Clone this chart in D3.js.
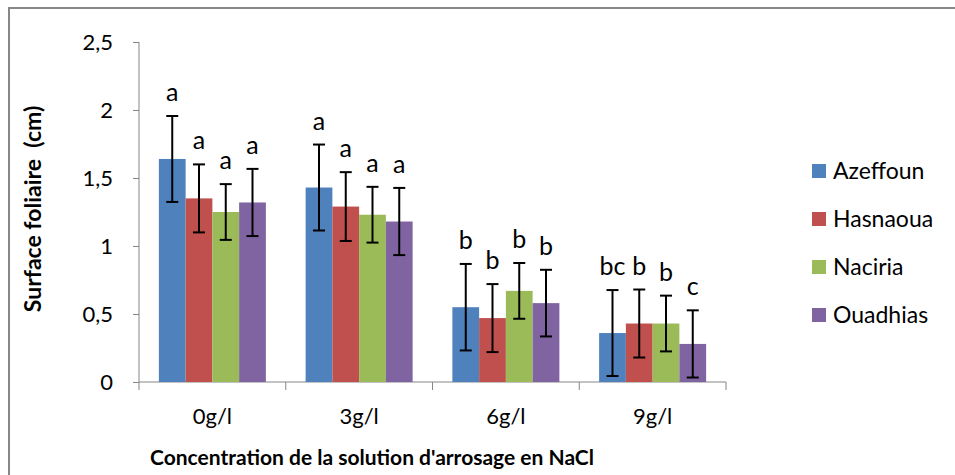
<!DOCTYPE html>
<html>
<head>
<meta charset="utf-8">
<script src="https://cdn.jsdelivr.net/npm/d3@7"></script>
<style>
  body { margin: 0; background: #fff; }
  svg text { font-family: Lato, "Open Sans", sans-serif; fill: #000; }
</style>
</head>
<body>
<div class="chart"></div>
<script>

// data
var categories = ["0g/l", "3g/l", "6g/l", "9g/l"];
var seriesNames = ["Azeffoun", "Hasnaoua", "Naciria", "Ouadhias"];
var seriesColors = ["#4F81BD", "#C0504D", "#9BBB59", "#8064A2"];

var azeffoun = [1.64, 1.43, 0.55, 0.36];
var hasnaoua = [1.35, 1.29, 0.47, 0.43];
var naciria  = [1.25, 1.23, 0.67, 0.43];
var ouadhias = [1.32, 1.18, 0.58, 0.28];

var errAzeffoun = [0.316, 0.316, 0.318, 0.316];
var errHasnaoua = [0.25, 0.253, 0.25, 0.25];
var errNaciria  = [0.205, 0.205, 0.205, 0.205];
var errOuadhias = [0.247, 0.247, 0.245, 0.247];

var lettersAzeffoun = ["a", "a", "b", "bc"];
var lettersHasnaoua = ["a", "a", "b", "b"];
var lettersNaciria  = ["a", "a", "b", "b"];
var lettersOuadhias = ["a", "a", "b", "c"];

var yTicks = [0, 0.5, 1, 1.5, 2, 2.5];

var values = [azeffoun, hasnaoua, naciria, ouadhias];
var errors = [errAzeffoun, errHasnaoua, errNaciria, errOuadhias];
var letters = [lettersAzeffoun, lettersHasnaoua, lettersNaciria, lettersOuadhias];

var w = 955, h = 475;

var svg = d3.select("div.chart")
            .append("svg")
            .attr("width", w)
            .attr("height", h);

// outer frame (runs off the right and bottom edges)
svg.append("rect")
    .attr("x", 9)
    .attr("y", 8)
    .attr("width", 960)
    .attr("height", 480)
    .attr("fill", "none")
    .attr("stroke", "#878787")
    .attr("stroke-width", 2);

var x0 = d3.scaleBand()
    .domain(categories)
    .range([139, 726])
    .paddingInner(0)
    .paddingOuter(0);

var x1 = d3.scaleBand()
    .domain(seriesNames)
    .range([0, 107]);

var y = d3.scaleLinear()
    .domain([0, 2.5])
    .range([382, 42]);

// flatten into one record per bar
var bars = [];
categories.forEach(function(c, i) {
  seriesNames.forEach(function(s, j) {
    bars.push({cat: c, series: s, color: seriesColors[j],
               value: values[j][i], err: errors[j][i], letter: letters[j][i]});
  });
});

function barX(d) {
  return x0(d.cat) + (x0.bandwidth() - 107) / 2 + x1(d.series);
}

// y axis
var yAxis = svg.append("g")
    .attr("transform", "translate(139,0)")
    .call(d3.axisLeft(y)
            .tickValues(yTicks)
            .tickSize(6)
            .tickPadding(20)
            .tickFormat(function(d) { return String(d).replace(".", ","); }));
yAxis.select(".domain").attr("stroke", "#868686").attr("d", "M0,42V382");
yAxis.selectAll(".tick line").attr("stroke", "#868686");
yAxis.selectAll(".tick text")
    .attr("font-size", 22)
    .attr("font-family", "Lato, sans-serif");

// x axis with ticks on category boundaries
svg.append("line")
    .attr("x1", 139).attr("x2", 726)
    .attr("y1", 382).attr("y2", 382)
    .attr("stroke", "#868686");

var bounds = categories.map(function(c) { return x0(c); }).concat([x0.range()[1]]);
svg.selectAll(".xtick")
    .data(bounds)
    .enter()
    .append("line")
    .attr("class", "xtick")
    .attr("x1", function(d) { return d; })
    .attr("x2", function(d) { return d; })
    .attr("y1", 382)
    .attr("y2", 390)
    .attr("stroke", "#868686");

svg.selectAll(".xlabel")
    .data(categories)
    .enter()
    .append("text")
    .attr("class", "xlabel")
    .attr("x", function(d) { return x0(d) + x0.bandwidth() / 2; })
    .attr("y", 424)
    .attr("text-anchor", "middle")
    .attr("font-size", 22)
    .text(function(d) { return d; });

// bars
svg.selectAll(".bar")
    .data(bars)
    .enter()
    .append("rect")
    .attr("class", "bar")
    .attr("x", barX)
    .attr("width", x1.bandwidth())
    .attr("y", function(d) { return y(d.value); })
    .attr("height", function(d) { return y(0) - y(d.value); })
    .attr("fill", function(d) { return d.color; });

// error bars
var eb = svg.selectAll(".err")
    .data(bars)
    .enter()
    .append("g")
    .attr("class", "err")
    .attr("transform", function(d) { return "translate(" + (barX(d) + x1.bandwidth() / 2) + ",0)"; });

eb.append("line")
    .attr("y1", function(d) { return y(d.value + d.err); })
    .attr("y2", function(d) { return y(d.value - d.err); })
    .attr("stroke", "#000")
    .attr("stroke-width", 2);

eb.append("line")
    .attr("x1", -6).attr("x2", 6)
    .attr("y1", function(d) { return y(d.value + d.err); })
    .attr("y2", function(d) { return y(d.value + d.err); })
    .attr("stroke", "#000")
    .attr("stroke-width", 2);

eb.append("line")
    .attr("x1", -6).attr("x2", 6)
    .attr("y1", function(d) { return y(d.value - d.err); })
    .attr("y2", function(d) { return y(d.value - d.err); })
    .attr("stroke", "#000")
    .attr("stroke-width", 2);

// significance letters
svg.selectAll(".letter")
    .data(bars)
    .enter()
    .append("text")
    .attr("class", "letter")
    .attr("x", function(d) { return barX(d) + x1.bandwidth() / 2; })
    .attr("y", function(d) { return y(d.value + d.err) - 15; })
    .attr("text-anchor", "middle")
    .attr("font-size", 25)
    .text(function(d) { return d.letter; });

// legend
var legend = svg.selectAll(".legend")
    .data(seriesNames)
    .enter()
    .append("g")
    .attr("class", "legend")
    .attr("transform", function(d, i) { return "translate(812," + (164 + i * 48) + ")"; });

legend.append("rect")
    .attr("width", 14)
    .attr("height", 14)
    .attr("fill", function(d, i) { return seriesColors[i]; });

legend.append("text")
    .attr("x", 21)
    .attr("y", 15)
    .attr("font-size", 23)
    .text(function(d) { return d; });

// axis titles
svg.append("text")
    .attr("x", 372)
    .attr("y", 465)
    .attr("text-anchor", "middle")
    .attr("font-size", 21)
    .attr("font-weight", "bold")
    .text("Concentration de la solution d'arrosage en NaCl");

svg.append("text")
    .attr("transform", "translate(41,209) rotate(-90)")
    .attr("text-anchor", "middle")
    .attr("font-size", 23)
    .attr("font-weight", "bold")
    .attr("xml:space", "preserve")
    .style("white-space", "pre")
    .text("Surface foliaire  (cm)");

</script>
</body>
</html>
